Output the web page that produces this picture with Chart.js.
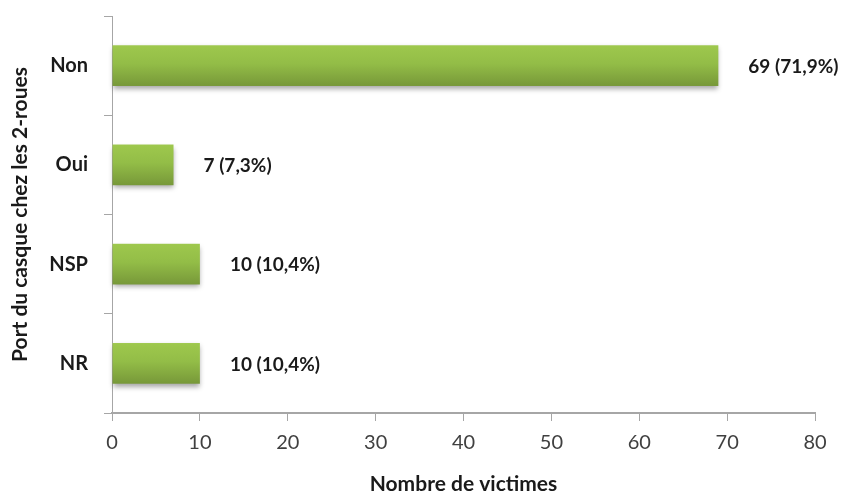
<!DOCTYPE html>
<html>
<head>
<meta charset="utf-8">
<script src="https://cdn.jsdelivr.net/npm/chart.js@4/dist/chart.umd.min.js"></script>
<style>
  body { margin: 0; background: #fff; }
  #wrap { width: 846px; height: 497px; }
</style>
</head>
<body>
<div id="wrap"><canvas id="barChart"></canvas></div>
<script>
const categories = ["Non", "Oui", "NSP", "NR"];
const victimes = [69, 7, 10, 10];
const pourcentages = ["71,9", "7,3", "10,4", "10,4"];
const xTicks = [0, 10, 20, 30, 40, 50, 60, 70, 80];

// barres en dégradé avec ombre, puis étiquettes
const barDecor = {
  id: "barDecor",
  afterDatasetsDraw(chart) {
    const ctx = chart.ctx;
    const meta = chart.getDatasetMeta(0);
    meta.data.forEach((bar) => {
      const h = bar.height;
      const top = bar.y - h / 2;
      const left = Math.min(bar.base, bar.x);
      const w = Math.abs(bar.x - bar.base);
      const g = ctx.createLinearGradient(0, top, 0, top + h);
      g.addColorStop(0, "#9ec84d");
      g.addColorStop(0.45, "#93bd47");
      g.addColorStop(1, "#779839");
      ctx.save();
      ctx.shadowColor = "rgba(0,0,0,0.35)";
      ctx.shadowBlur = 5;
      ctx.shadowOffsetY = 3;
      ctx.fillStyle = g;
      ctx.fillRect(left, top, w, h);
      ctx.restore();
    });
    ctx.save();
    ctx.font = "bold 19px Lato";
    ctx.fillStyle = "#1a1a1a";
    ctx.textBaseline = "middle";
    meta.data.forEach((bar, i) => {
      ctx.fillText(victimes[i] + " (" + pourcentages[i] + "%)", bar.x + 30, bar.y + 1);
    });
    ctx.restore();
  },
};

const barChart = new Chart("barChart", {
  type: "bar",
  data: {
    labels: categories,
    datasets: [
      {
        data: victimes,
        backgroundColor: "rgba(0,0,0,0)",
        borderWidth: 0,
        categoryPercentage: 1,
        barPercentage: 0.41,
      },
    ],
  },
  options: {
    indexAxis: "y",
    responsive: true,
    maintainAspectRatio: false,
    animation: false,
    layout: { padding: { top: 16, right: 31, left: 8, bottom: 0 } },
    plugins: {
      legend: { display: false },
      tooltip: { enabled: false },
    },
    scales: {
      x: {
        min: 0,
        max: 80,
        afterBuildTicks(scale) {
          scale.ticks = xTicks.map((v) => ({ value: v }));
        },
        afterFit(scale) {
          scale.height = 84;
        },
        border: { color: "#a6a6a6", width: 2 },
        grid: { drawOnChartArea: false, tickLength: 8, color: "#a6a6a6" },
        ticks: {
          color: "#404040",
          font: { family: "Lato", size: 20 },
          padding: 10,
        },
        title: {
          display: true,
          text: "Nombre de victimes",
          color: "#1a1a1a",
          font: { family: "Lato", size: 21, weight: "bold" },
          padding: { top: 0, bottom: 0 },
        },
      },
      y: {
        afterFit(scale) {
          scale.width = 104;
          scale.paddingTop = 0;
          scale.paddingBottom = 0;
        },
        border: { color: "#a6a6a6", width: 1 },
        grid: { drawOnChartArea: false, tickLength: 8, color: "#a6a6a6", offset: true },
        ticks: {
          color: "#1a1a1a",
          font: { family: "Lato", size: 20, weight: "bold" },
          padding: 16,
        },
        title: {
          display: true,
          text: "Port du casque chez les 2-roues",
          color: "#1a1a1a",
          font: { family: "Lato", size: 21, weight: "bold" },
          padding: 0,
        },
      },
    },
  },
  plugins: [barDecor],
});
</script>
</body>
</html>
